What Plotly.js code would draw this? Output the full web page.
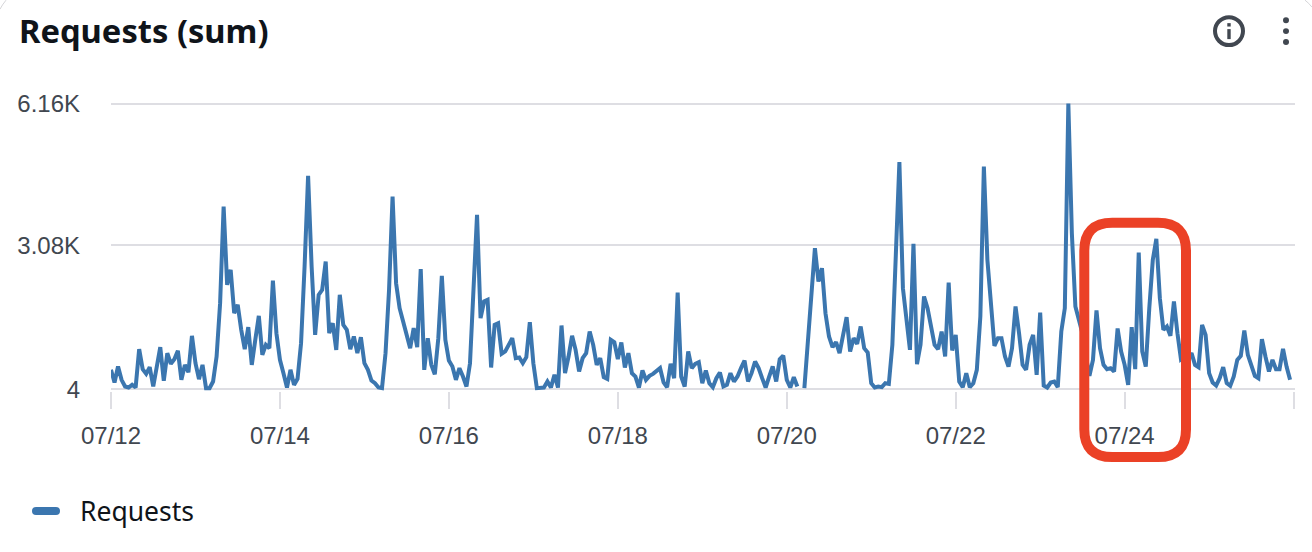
<!DOCTYPE html>
<html><head><meta charset="utf-8">
<script src="https://cdn.plot.ly/plotly-3.0.1.min.js"></script>
<style>html,body{margin:0;padding:0;background:#fff}#c{width:1312px;height:552px}</style></head>
<body><div id="c"></div>
<script>
const seriesName = "Requests";
const chartTitle = "Requests (sum)";
const startDate = Date.UTC(2024,6,12);
const yTickVals = [4,3103,6160];
const yTickText = ["4","3.08K","6.16K"];
const requests = [
424,151,495,208,65,43,100,43,869,438,337,481,65,460,912,187,783,553,653,833,208,531,373,1156,
567,223,531,29,29,172,711,1860,3942,2255,2578,1644,1824,1285,869,1343,531,1070,1587,747,962,890,2348,1213,
639,352,43,424,100,230,998,2649,4602,2649,1178,2039,2147,2757,1213,1429,854,2039,1393,1285,869,1142,783,1127,
567,424,194,136,43,29,783,2147,4157,2290,1752,1465,1142,890,1321,912,2592,424,1106,531,330,1106,2448,1070,
625,495,208,460,280,65,567,2147,3762,1537,1896,1931,474,1393,1429,768,819,962,1106,675,689,567,696,1450,
567,29,29,43,172,43,316,43,1379,352,711,1156,854,388,675,783,1249,962,531,675,266,230,1070,1020,
653,1012,474,783,352,280,43,409,208,294,337,402,460,151,50,553,244,2089,280,65,819,460,553,589,
136,409,136,50,244,366,65,100,352,172,280,460,625,172,352,603,460,244,43,280,495,172,653,732,
208,43,266,65,null,29,998,1931,3044,2326,2614,1644,1142,912,1020,783,1142,1558,819,1106,984,1357,890,797,
136,43,65,50,136,122,962,3080,4897,2183,1572,854,3138,546,962,2003,1752,1393,962,869,1249,711,2305,840,
1178,172,50,352,50,136,424,1572,4803,2793,1716,941,1106,1106,711,495,890,1788,1213,531,424,962,1178,316,
1659,86,43,151,172,50,1249,1752,6160,3367,1788,1501,1213,711,294,639,1702,890,531,438,460,388,1314,819,
531,100,1343,438,2951,819,495,1752,2793,3245,1967,1285,1357,1156,1896,1213,653,711,675,783,531,481,1393,1178,
352,151,86,244,481,136,79,280,639,725,1271,747,531,294,244,1084,711,388,639,438,438,876,495,208
];
const times = requests.map((_, h) => new Date(startDate + h*3600000).toISOString());

const W=1312,H=552,L=111,R=1295,T=102,B=391.5;
const gx=p=>(p-L)/(R-L), gy=p=>(B-p)/(B-T);
const box={l:1084.3,r:1186,t:223,b:457.7,c:28};
const boxPath=()=>{
  const {l,r,t,b,c}=box;
  const P=(x,y)=>gx(x).toFixed(5)+","+gy(y).toFixed(5);
  return "M"+P(l+c,t)+" L"+P(r-c,t)+" Q"+P(r,t)+" "+P(r,t+c)+" L"+P(r,b-c)+" Q"+P(r,b)+" "+P(r-c,b)+
         " L"+P(l+c,b)+" Q"+P(l,b)+" "+P(l,b-c)+" L"+P(l,t+c)+" Q"+P(l,t)+" "+P(l+c,t)+" Z";
};
const ink="#414750";
const circle=(cx,cy,r,o)=>Object.assign({type:"circle",xref:"paper",yref:"paper",x0:gx(cx-r),x1:gx(cx+r),y0:gy(cy+r),y1:gy(cy-r)},o);
const rect=(x0,y0,x1,y1,c)=>({type:"rect",xref:"paper",yref:"paper",x0:gx(x0),x1:gx(x1),y0:gy(y1),y1:gy(y0),fillcolor:c,line:{width:0}});
const arc=(a,b,c)=>({type:"path",xref:"paper",yref:"paper",
  path:"M"+gx(a[0])+","+gy(a[1])+" Q"+gx(b[0])+","+gy(b[1])+" "+gx(c[0])+","+gy(c[1]),line:{color:"#d5d5d8",width:1}});

const shapes=[
  {type:"path",xref:"paper",yref:"paper",path:boxPath(),line:{color:"#EB4126",width:10},layer:"above"},
  circle(1229,31,14,{line:{color:ink,width:4},fillcolor:"rgba(0,0,0,0)"}),
  rect(1227.3,29,1230.7,39,ink),
  rect(1227.3,23,1230.7,26.4,ink),
  circle(1286,20,3,{fillcolor:ink,line:{width:0}}),
  circle(1286,31,3,{fillcolor:ink,line:{width:0}}),
  circle(1286,42,3,{fillcolor:ink,line:{width:0}}),
  arc([6,0],[2,5],[0,9]),
  arc([1305,0],[1309,3],[1312,7])
];

Plotly.newPlot("c",[{
  type:"scatter",mode:"lines",name:seriesName,x:times,y:requests,
  line:{color:"#3B76AF",width:4,shape:"linear"},connectgaps:false,hoverinfo:"x+y"
}],{
  width:W,height:H,paper_bgcolor:"#fff",plot_bgcolor:"#fff",
  margin:{l:L,r:W-R,t:T,b:H-B,pad:0},
  font:{family:"Liberation Sans, Arial, sans-serif",size:24,color:ink},
  title:{text:chartTitle,x:19/W,xref:"container",xanchor:"left",y:1-32/H,yref:"container",yanchor:"middle",
         font:{family:"Noto Sans",size:32.7,weight:700,color:"#0F141A"}},
  showlegend:true,
  legend:{x:gx(27),y:gy(512),xref:"paper",yref:"paper",xanchor:"left",yanchor:"middle",orientation:"h",itemwidth:43,
          font:{family:"Noto Sans",size:26.5,color:"#0F141A"},bgcolor:"rgba(0,0,0,0)"},
  xaxis:{type:"date",range:[new Date(startDate).toISOString(),new Date(startDate+336.4*3600000).toISOString()],
         tick0:new Date(startDate).toISOString(),dtick:2*86400000,tickformat:"%m/%d",
         showgrid:false,zeroline:false,showline:false,ticks:"outside",ticklen:17,tickwidth:2,tickcolor:"#DEDEE3",
         ticklabelstandoff:6,tickfont:{size:24,color:ink}},
  yaxis:{range:[-32,6193],tickmode:"array",tickvals:yTickVals,ticktext:yTickText,
         showgrid:true,gridcolor:"#DEDEE3",gridwidth:2,zeroline:false,showline:false,ticks:"",
         ticklabelstandoff:30,tickfont:{size:24,color:ink}},
  shapes:shapes
},{displayModeBar:false,responsive:false}).then(gd=>{
  gd.querySelectorAll(".legendlines path").forEach(p=>{
    p.setAttribute("d","M9,0h20");
    p.style.strokeWidth="8px";p.style.strokeLinecap="round";
  });
});
</script></body></html>
